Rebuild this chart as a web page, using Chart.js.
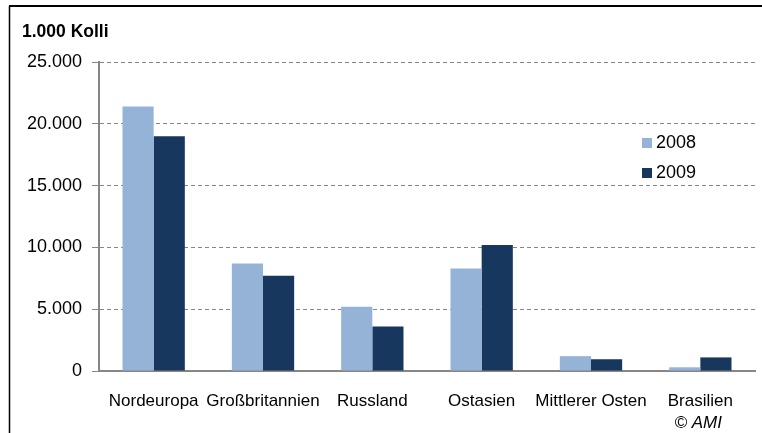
<!DOCTYPE html>
<html>
<head>
<meta charset="utf-8">
<script src="https://cdn.jsdelivr.net/npm/chart.js@4.4.1/dist/chart.umd.min.js"></script>
<style>
html,body{margin:0;padding:0;background:#fff;}
#wrap{position:relative;width:762px;height:433px;}
</style>
</head>
<body>
<div id="wrap"><canvas id="c" width="762" height="433"></canvas></div>
<script>
const categories = ["Nordeuropa", "Großbritannien", "Russland", "Ostasien", "Mittlerer Osten", "Brasilien"];
const seriesNames = ["2008", "2009"];
const values2008 = [21400, 8700, 5200, 8300, 1200, 300];
const values2009 = [19000, 7700, 3600, 10200, 950, 1100];
const yTicks = [0, 5000, 10000, 15000, 20000, 25000];
const unitLabel = "1.000 Kolli";
const sourceLabel = "© AMI";

const colors = ["#95B3D7", "#17375E"];
const FONT = "'Liberation Sans', Arial, sans-serif";

function fmt(v){ return v.toLocaleString('de-DE'); }

const decor = {
  id: 'decor',
  beforeDraw(chart){
    const ctx = chart.ctx;
    ctx.save();
    ctx.fillStyle = '#fff';
    ctx.fillRect(0,0,chart.width,chart.height);
    ctx.strokeStyle = '#000';
    ctx.lineWidth = 1.5;
    ctx.beginPath(); ctx.moveTo(9.5, 433); ctx.lineTo(9.5, 6); ctx.stroke();
    ctx.lineWidth = 2;
    ctx.beginPath(); ctx.moveTo(9, 6); ctx.lineTo(762, 6); ctx.stroke();
    ctx.restore();
  },
  afterDraw(chart){
    const ctx = chart.ctx;
    ctx.save();
    ctx.fillStyle = '#000';
    ctx.textBaseline = 'middle';
    ctx.font = "bold 17.5px " + FONT;
    ctx.textAlign = 'left';
    ctx.fillText(unitLabel, 22, 32);
    // legend
    ctx.font = "18px " + FONT;
    chart.data.datasets.forEach((ds, i) => {
      const y = 143 + i * 30;
      ctx.fillStyle = ds.backgroundColor;
      ctx.fillRect(642, y - 5, 10, 10);
      ctx.fillStyle = '#000';
      ctx.fillText(ds.label, 656, y);
    });
    // source
    ctx.font = "italic 17px " + FONT;
    ctx.textAlign = 'right';
    ctx.fillText(sourceLabel, 722, 423);
    ctx.restore();
  }
};

new Chart(document.getElementById('c'), {
  type: 'bar',
  data: {
    labels: categories,
    datasets: [
      { label: seriesNames[0], data: values2008, backgroundColor: colors[0] },
      { label: seriesNames[1], data: values2009, backgroundColor: colors[1] }
    ]
  },
  options: {
    responsive: false,
    animation: false,
    devicePixelRatio: 1,
    layout: { padding: { top: 62, right: 7, bottom: 0, left: 0 } },
    plugins: { legend: { display: false }, tooltip: { enabled: false } },
    datasets: { bar: { categoryPercentage: 0.57, barPercentage: 1.0 } },
    scales: {
      x: {
        afterFit(s){ s.height = 62; },
        grid: { display: false, drawTicks: false },
        border: { display: true, color: '#868686', width: 2 },
        ticks: {
          autoSkip: false, maxRotation: 0, minRotation: 0, padding: 20,
          color: '#000', font: { family: FONT, size: 17 }
        }
      },
      y: {
        min: 0, max: 25000,
        afterFit(s){ s.width = 99; },
        afterBuildTicks(s){ s.ticks = yTicks.map(v => ({ value: v })); },
        grid: {
          color: '#868686', lineWidth: 1,
          tickLength: 7, tickColor: '#868686', tickBorderDash: [0, 0],
          drawTicks: true
        },
        border: { display: true, color: '#868686', width: 2, dash: [4, 3] },
        ticks: {
          padding: 10, color: '#000',
          font: { family: FONT, size: 18 },
          callback: v => fmt(v)
        }
      }
    }
  },
  plugins: [decor]
});
</script>
</body>
</html>
